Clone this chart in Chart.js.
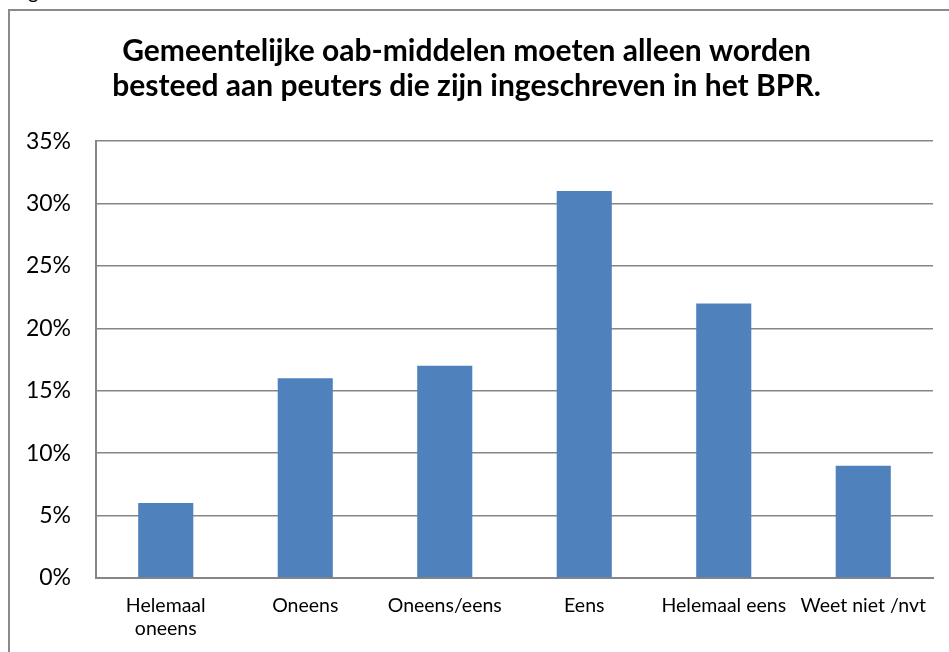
<!DOCTYPE html>
<html>
<head>
<meta charset="utf-8">
<script src="https://cdn.jsdelivr.net/npm/chart.js@4"></script>
<style>
  html, body { margin: 0; padding: 0; background: #fff; overflow: hidden; }
  body { width: 949px; height: 652px; position: relative; font-family: Lato, sans-serif; }
  #caption { position: absolute; left: 12px; top: -21px; font-size: 20px; color: #000; }
  #frame { position: absolute; left: 8px; top: 9px; width: 1000px; height: 700px; border: 2px solid #8a8a8a; }
  #chart { position: absolute; left: 0; top: 0; }
</style>
</head>
<body>
<div id="caption">Figuur</div>
<div id="frame"></div>
<canvas id="chart" width="949" height="652"></canvas>
<script>
// --- data ---
const categories = [['Helemaal', 'oneens'], 'Oneens', 'Oneens/eens', 'Eens', 'Helemaal eens', 'Weet niet /nvt'];
const percentages = [6, 16, 17, 31, 22, 9];
const yTicks = [0, 5, 10, 15, 20, 25, 30, 35];
const titleLines = ['Gemeentelijke oab-middelen moeten alleen worden', 'besteed aan peuters die zijn ingeschreven in het BPR.'];

const gridGrey = '#868686';

new Chart(document.getElementById('chart'), {
    type: 'bar',
    data: {
        labels: categories,
        datasets: [{
            data: percentages,
            backgroundColor: '#4F81BD',
            borderWidth: 0,
            categoryPercentage: 1,
            barPercentage: 0.395
        }]
    },
    options: {
        responsive: false,
        animation: false,
        layout: { padding: { left: 0, right: 16, top: 0, bottom: 0 } },
        plugins: {
            legend: { display: false },
            tooltip: { enabled: false },
            title: {
                display: true,
                text: titleLines,
                color: '#000',
                font: { family: 'Lato', size: 30, weight: 'bold', lineHeight: 1.17 },
                padding: { top: 34, bottom: 37 }
            }
        },
        scales: {
            x: {
                grid: { display: false, drawTicks: false },
                border: { display: true, color: gridGrey, width: 2 },
                ticks: {
                    color: '#000',
                    font: { family: 'Lato', size: 19.5, lineHeight: 1.18 },
                    padding: 16,
                    maxRotation: 0,
                    autoSkip: false
                },
                afterFit: (scale) => { scale.height = 74; }
            },
            y: {
                min: 0,
                max: 35,
                afterBuildTicks: (scale) => { scale.ticks = yTicks.map(v => ({ value: v })); },
                grid: { color: gridGrey, lineWidth: 1.5, drawTicks: false },
                border: { display: true, color: gridGrey, width: 2 },
                ticks: {
                    color: '#000',
                    font: { family: 'Lato', size: 23 },
                    padding: 25,
                    callback: (v) => v + '%'
                },
                afterFit: (scale) => { scale.width = 96; }
            }
        }
    }
});
</script>
</body>
</html>
